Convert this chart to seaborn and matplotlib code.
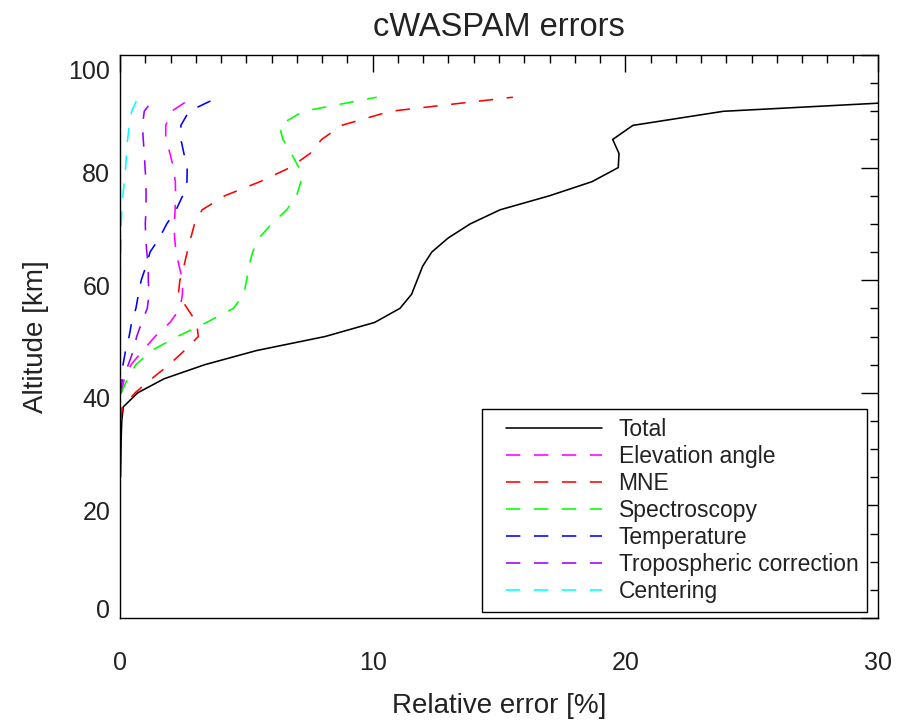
import matplotlib
matplotlib.use("Agg")
import matplotlib.pyplot as plt
from matplotlib.ticker import MultipleLocator, FixedLocator
from matplotlib.transforms import ScaledTranslation
from matplotlib.patches import Rectangle
import seaborn as sns
import pandas as pd

# Altitude grid [km]
altitude = [25, 27.5, 30, 32.5, 35, 37.5, 40, 42.5, 45, 47.5, 50, 52.5, 55, 57.5,
            60, 62.5, 65, 67.5, 70, 72.5, 75, 77.5, 80, 82.5, 85, 87.5, 90, 92.5]

# Relative error contributions [%]
total = [0.02, 0.03, 0.04, 0.05, 0.07, 0.13, 0.70, 1.75, 3.36, 5.40, 8.12, 10.08, 11.08, 11.54,
         11.76, 11.98, 12.34, 12.99, 13.86, 15.04, 17.00, 18.68, 19.72, 19.75, 19.50, 20.30, 23.88, 34.5]
elevation = [0.0, 0.0, 0.0, 0.01, 0.02, 0.03, 0.05, 0.17, 0.44, 0.90, 1.39, 1.98, 2.38, 2.47,
             2.48, 2.34, 2.22, 2.16, 2.15, 2.18, 2.20, 2.19, 2.11, 1.98, 1.81, 1.81, 2.04, 2.88]
mne = [0.0, 0.0, 0.0, 0.01, 0.02, 0.10, 0.60, 1.25, 1.95, 2.55, 3.10, 3.03, 2.66, 2.31,
       2.37, 2.53, 2.66, 2.80, 2.95, 3.25, 4.15, 5.54, 6.73, 7.52, 7.98, 8.77, 10.70, 15.55]
spectroscopy = [0.0, 0.0, 0.0, 0.0, 0.0, 0.01, 0.05, 0.30, 0.63, 1.25, 2.27, 3.43, 4.49, 4.90,
                5.01, 5.10, 5.25, 5.50, 6.00, 6.60, 6.99, 7.16, 7.08, 6.78, 6.45, 6.30, 7.25, 10.16]
temperature = [0.0, 0.0, 0.0, 0.0, 0.0, 0.0, 0.01, 0.04, 0.12, 0.22, 0.36, 0.46, 0.63, 0.73,
               0.84, 1.03, 1.19, 1.56, 1.85, 2.22, 2.48, 2.65, 2.66, 2.53, 2.41, 2.41, 2.73, 3.89]
troposphere = [0.0, 0.0, 0.0, 0.0, 0.0, 0.0, 0.02, 0.10, 0.33, 0.53, 0.66, 0.86, 1.08, 1.15,
               1.12, 1.12, 1.06, 1.02, 1.00, 1.03, 1.03, 1.03, 0.99, 0.96, 0.92, 0.89, 0.96, 1.38]
centering = [0.0, 0.0, 0.0, 0.0, 0.0, 0.0, 0.0, 0.0, 0.0, 0.0, 0.0, 0.01, 0.01, 0.01,
             0.01, 0.02, 0.03, 0.04, 0.05, 0.07, 0.11, 0.17, 0.22, 0.26, 0.30, 0.37, 0.46, 0.72]

series_names = ["Total", "Elevation angle", "MNE", "Spectroscopy", "Temperature",
                "Tropospheric correction", "Centering"]
series_values = [total, elevation, mne, spectroscopy, temperature, troposphere, centering]
series_colors = ["#000000", "#FF00FF", "#FF0000", "#00FF00", "#0000FF", "#9900FF", "#00FFFF"]

altitude_ticks = [0, 20, 40, 60, 80, 100]
error_ticks = [0, 10, 20, 30]

sns.set_theme(style="white")
plt.rcParams["font.family"] = ["Liberation Sans", "DejaVu Sans"]
text_color = "#222222"

fig = plt.figure(figsize=(8.97, 7.22), dpi=100)
ax = fig.add_axes([120 / 897, 104 / 722, 758 / 897, 563 / 722])

for name, vals, col in zip(series_names, series_values, series_colors):
    df = pd.DataFrame({"error": vals, "alt": altitude})
    ls = "-" if name == "Total" else (0, (9, 8.5))
    sns.lineplot(data=df, x="error", y="alt", sort=False, estimator=None,
                 color=col, linewidth=1.15, linestyle=ls, label=name, ax=ax)

ax.set_xlim(0, 30)
ax.set_ylim(0, 100)
ax.xaxis.set_major_locator(FixedLocator(error_ticks))
ax.xaxis.set_minor_locator(MultipleLocator(1))
ax.yaxis.set_major_locator(FixedLocator(altitude_ticks))
ax.yaxis.set_minor_locator(MultipleLocator(5))

for s in ax.spines.values():
    s.set_color("black")
    s.set_linewidth(1.0)

ax.tick_params(which="both", direction="in", top=True, right=True, color="black", width=1.0)
ax.tick_params(which="major", length=12)
ax.tick_params(which="minor", length=5.5)
ax.tick_params(axis="x", which="major", pad=24, labelsize=18, labelcolor=text_color)
ax.tick_params(axis="y", which="major", pad=7, labelsize=18, labelcolor=text_color)

# altitude labels sit a little below their ticks and stay inside the frame at the ends
shift = ScaledTranslation(0, -0.05, fig.dpi_scale_trans)
yticks = ax.yaxis.get_major_ticks(len(altitude_ticks))
for i, tk in enumerate(yticks):
    if i == 0:
        tk.label1.set_verticalalignment("baseline")
    else:
        if i == len(yticks) - 1:
            tk.label1.set_verticalalignment("top")
        tk.label1.set_transform(tk.label1.get_transform() + shift)

ax.set_xlabel("Relative error [%]", fontsize=20, color=text_color, labelpad=13)
ax.set_ylabel("Altitude [km]", fontsize=20, color=text_color, labelpad=14)
ax.set_title("cWASPAM errors", fontsize=23.5, color=text_color, pad=14)

leg = ax.legend(loc="lower right", bbox_to_anchor=(867 / 897, 110 / 722),
                bbox_transform=fig.transFigure, fontsize=16.5, frameon=False,
                handlelength=4.2, handletextpad=0.72, labelspacing=0.18,
                borderpad=0.38, borderaxespad=0)
for t in leg.get_texts():
    t.set_color(text_color)

# frame around the legend, with a wider margin on the handle side
fig.canvas.draw()
bb = leg.get_window_extent().transformed(fig.transFigure.inverted())
extra_left = 15 / 897
frame = Rectangle((bb.x0 - extra_left, bb.y0), bb.width + extra_left, bb.height,
                  transform=fig.transFigure, facecolor="white", edgecolor="black",
                  linewidth=1.0, zorder=4)
ax.add_artist(frame)
frame.set_clip_on(False)
leg.set_zorder(5)

fig.savefig("out.png", dpi=100)
